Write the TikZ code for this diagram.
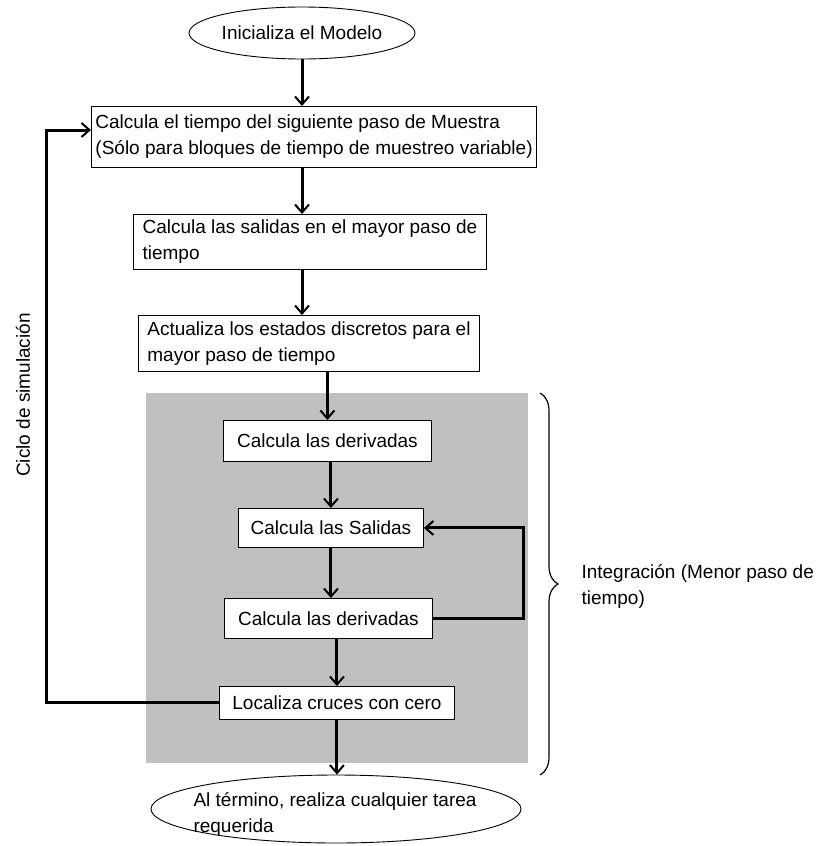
\documentclass[tikz,border=0pt]{standalone}
\usepackage{fontspec}
\setmainfont{Liberation Sans}
\usetikzlibrary{arrows.meta,shapes.geometric,positioning,decorations.pathreplacing}
\definecolor{grisfondo}{RGB}{192,192,192}
\tikzset{
  paso/.style={draw, fill=white, line width=0.9pt, align=left, inner xsep=4pt, inner ysep=2pt, anchor=north west},
  extremo/.style={draw, ellipse, line width=0.9pt, fill=white, inner sep=0pt},
  flecha/.style={-{Straight Barb[length=8pt,width=14pt,line width=2pt]}, line width=3pt},
}

\begin{document}
\begin{tikzpicture}[x=1pt, y=-1pt, font=\fontsize{19}{26}\selectfont]
            \useasboundingbox (0,0) rectangle (827,846);
            % Bloque de integracion
            \fill[grisfondo] (146,393) rectangle (528,763);

            \node[extremo, minimum width=226pt, minimum height=52pt] (inicio) at (302,33) {};
            \node (inicioTexto) at (inicio.center) {Inicializa el Modelo};

            \node[paso, minimum width=436pt, minimum height=61pt] (tiempo) at (91,106)
                {Calcula el tiempo del siguiente paso de Muestra\\(Sólo para bloques de tiempo de muestreo variable)};
            \node[paso, minimum width=353pt, minimum height=55pt] (salidasMayor) at (133,214)
                {Calcula las salidas en el mayor paso de\\tiempo};
            \node[paso, minimum width=341pt, minimum height=56pt] (estados) at (138,315)
                {Actualiza los estados discretos para el\\mayor paso de tiempo};

            \node[paso, minimum width=208pt, minimum height=41pt] (deriv1) at (223,420) {Calcula las derivadas};
            \node[paso, minimum width=185pt, minimum height=39pt] (salidas) at (238,508) {Calcula las Salidas};
            \node[paso, minimum width=208pt, minimum height=40pt] (deriv2) at (224,598) {Calcula las derivadas};
            \node[paso, minimum width=235pt, minimum height=33pt] (cruces) at (219,686) {Localiza cruces con cero};

            \node[extremo, minimum width=370pt, minimum height=68pt] (fin) at (336,809) {};
            \node[align=left, anchor=west] (finTexto) at (190,814) {Al término, realiza cualquier tarea\\requerida};

            % Flechas principales
            \draw[flecha] (inicio.south) -- (inicio.south |- tiempo.north);
            \draw[flecha] (tiempo.south -| inicio.south) -- (inicio.south |- salidasMayor.north);
            \draw[flecha] (salidasMayor.south -| inicio.south) -- (inicio.south |- estados.north);
            \draw[flecha] (deriv1.north |- estados.south) -- (deriv1.north);
            \draw[flecha] (salidas.north |- deriv1.south) -- (salidas.north);
            \draw[flecha] (salidas.south) -- (salidas.south |- deriv2.north);
            \draw[flecha] (cruces.north |- deriv2.south) -- (cruces.north);
            \draw[flecha] (cruces.south) -- (cruces.south |- fin.north);

            % Lazos
            \draw[flecha] (deriv2.east) -- ++(91,0) |- (salidas.east);
            \coordinate (esquina) at (46,130);
            \draw[flecha] (cruces.west) -| (esquina) -- (esquina -| tiempo.west);

            \node[rotate=90] (ciclo) at (23,395) {Ciclo de simulación};

            \draw[line width=1.2pt, decorate, decoration={brace, amplitude=18pt}] (540,393) -- (540,775);
            \node[align=left, anchor=west] (integracion) at (578,586) {Integración (Menor paso de\\tiempo)};
\end{tikzpicture}
\end{document}
